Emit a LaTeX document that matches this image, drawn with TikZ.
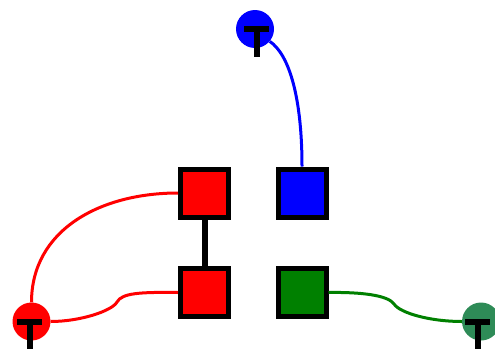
\documentclass[tikz,border=0pt]{standalone}
\definecolor{seagr}{RGB}{46,139,87}
\definecolor{dgreen}{RGB}{0,128,0}
\tikzset{
  sq/.style={draw=black, line width=5pt, minimum size=48pt, inner sep=0pt, rectangle},
  term/.style={circle, minimum size=38pt, inner sep=0pt},
  tee/.style={line width=6pt, draw=black},
  wire/.style={line width=3pt},
}
\begin{document}
\begin{tikzpicture}[x=1pt,y=-1pt]
\useasboundingbox (0,0) rectangle (495,348);
% squares
\node[sq, fill=red] (r1) at (204.5,193) {};
\node[sq, fill=red] (r2) at (204.5,292.5) {};
\node[sq, fill=blue] (b1) at (302,193) {};
\node[sq, fill=dgreen] (g1) at (302,292.5) {};
% terminals
\node[term, fill=blue] (tb) at (255,29) {};
\node[term, fill=red] (tr) at (31.5,321.5) {};
\node[term, fill=seagr] (tg) at (481,321.5) {};
% wires
\draw[wire, blue] (tb.-40) .. controls (290,55) and (302,100) .. (b1.north);
\draw[wire, red] (r1.west) .. controls (100,193) and (31.5,230) .. (tr.north);
\draw[wire, red] (r2.west) .. controls (140,292) and (122,293) .. (117,302)
   .. controls (112,311) and (80,321.5) .. (tr.east);
\draw[wire, dgreen] (g1.east) .. controls (360,292) and (388,295) .. (394,304)
   .. controls (400,313) and (430,321.5) .. (tg.west);
\draw[line width=6pt, black] (r1.south) -- (r2.north);
% tee symbols
\foreach \t/\dx in {tb/1.5, tr/-2, tg/-3.5}{
  \draw[tee] ([xshift=\dx pt-12.5pt]\t.center) -- ++(25,0);
  \draw[tee] ([xshift=\dx pt]\t.center) -- ++(0,28);
}
\end{tikzpicture}
\end{document}
